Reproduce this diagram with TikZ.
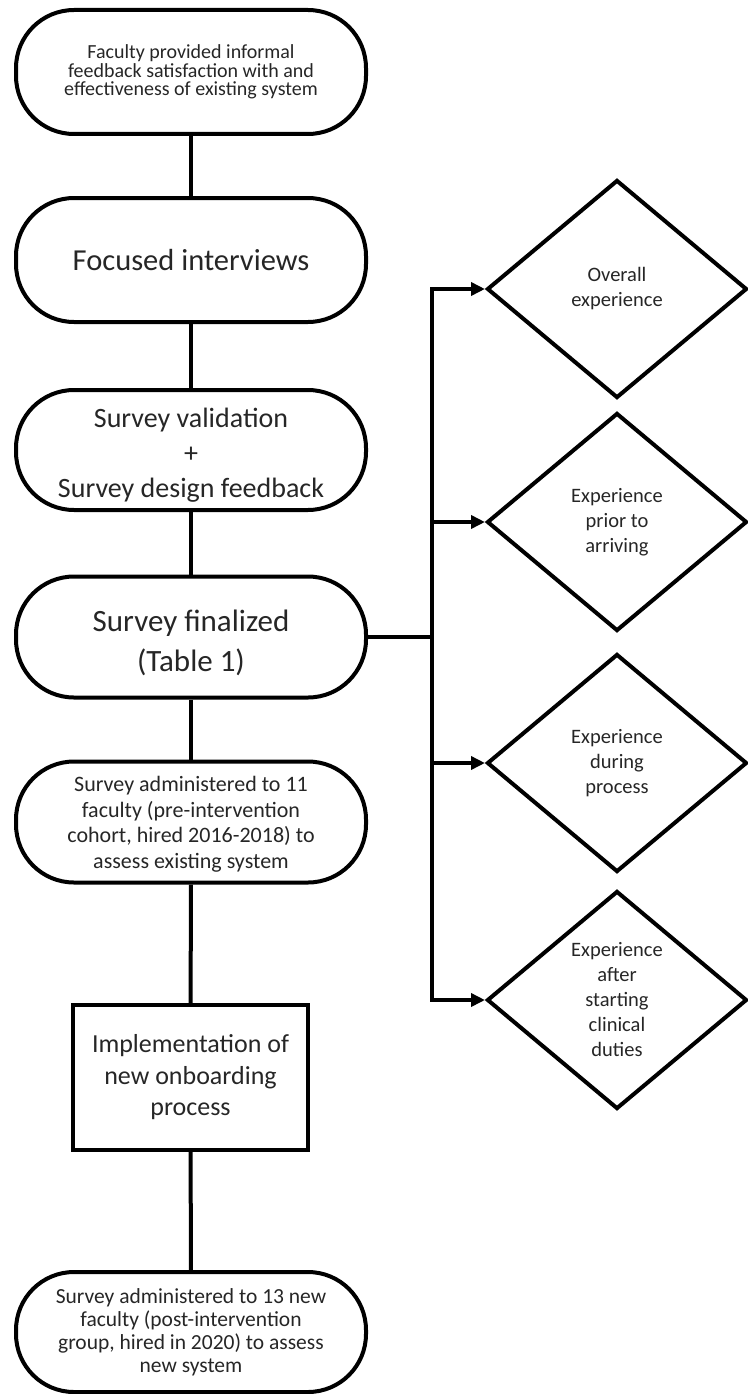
\documentclass[tikz,border=0pt]{standalone}
\usepackage{fontspec}
\setmainfont{Carlito}
\usetikzlibrary{shapes.geometric,arrows.meta}
\tikzset{
  stad/.style={draw, line width=4pt, rounded corners=58pt, minimum width=350pt, align=center, inner sep=0pt, text=black!85},
  boxnode/.style={draw, line width=4pt, minimum width=235pt, minimum height=145pt, align=center, inner sep=0pt, text=black!85},
  dia/.style={draw, diamond, line width=4pt, minimum width=260pt, minimum height=218pt, inner sep=0pt, align=center, text=black!85, font=\fontsize{20.5}{25}\selectfont},
  link/.style={line width=4pt},
  arr/.style={line width=4pt, -{Triangle[length=14pt,width=13pt]}}
}
\begin{document}
\begin{tikzpicture}[x=1pt,y=-1pt]
\useasboundingbox (0,0) rectangle (747,1394);
\node[stad, minimum height=124pt, font=\fontsize{20}{18.5}\selectfont] (n1) at (191,72) {Faculty provided informal\\feedback satisfaction with and\\effectiveness of existing system};
\node[stad, minimum height=124pt, font=\fontsize{30.5}{34}\selectfont] (n2) at (191,260) {Focused interviews};
\node[stad, minimum height=120pt, font=\fontsize{28}{35}\selectfont] (n3) at (191,450) {\rule{0pt}{29pt}Survey validation\\+\\Survey design feedback};
\node[stad, minimum height=121pt, font=\fontsize{31}{40}\selectfont] (n4) at (191,637) {\rule{0pt}{34pt}Survey finalized\\(Table 1)};
\node[stad, minimum height=121pt, font=\fontsize{22}{25.5}\selectfont] (n5) at (191,822) {\rule{0pt}{20pt}Survey administered to 11\\faculty (pre-intervention\\cohort, hired 2016-2018) to\\assess existing system};
\node[boxnode, font=\fontsize{26}{31.5}\selectfont] (n6) at (190.5,1077.5) {Implementation of\\new onboarding\\process};
\node[stad, minimum height=120pt, font=\fontsize{21.5}{23}\selectfont] (n7) at (191,1332) {Survey administered to 13 new\\faculty (post-intervention\\group, hired in 2020) to assess\\new system};
\node[dia] (d1) at (617,289) {Overall\\experience};
\node[dia] (d2) at (617,522) {Experience\\prior to\\arriving};
\node[dia] (d3) at (617,763) {Experience\\during\\process};
\node[dia] (d4) at (617,1000) {Experience\\after\\starting\\clinical\\duties};
\coordinate (bus) at (432,0);
\draw[link] (n1) -- (n2);
\draw[link] (n2) -- (n3);
\draw[link] (n3) -- (n4);
\draw[link] (n4) -- (n5);
\draw[link] (n5) -- (n6);
\draw[link] (n6) -- (n7);
\draw[link] (n4.east) -- (n4.east -| bus);
\draw[link, line cap=rect] (d1.west -| bus) -- (d4.west -| bus);
\draw[arr] (d1.west -| bus) -- (d1.west);
\draw[arr] (d2.west -| bus) -- (d2.west);
\draw[arr] (d3.west -| bus) -- (d3.west);
\draw[arr] (d4.west -| bus) -- (d4.west);
\end{tikzpicture}
\end{document}
